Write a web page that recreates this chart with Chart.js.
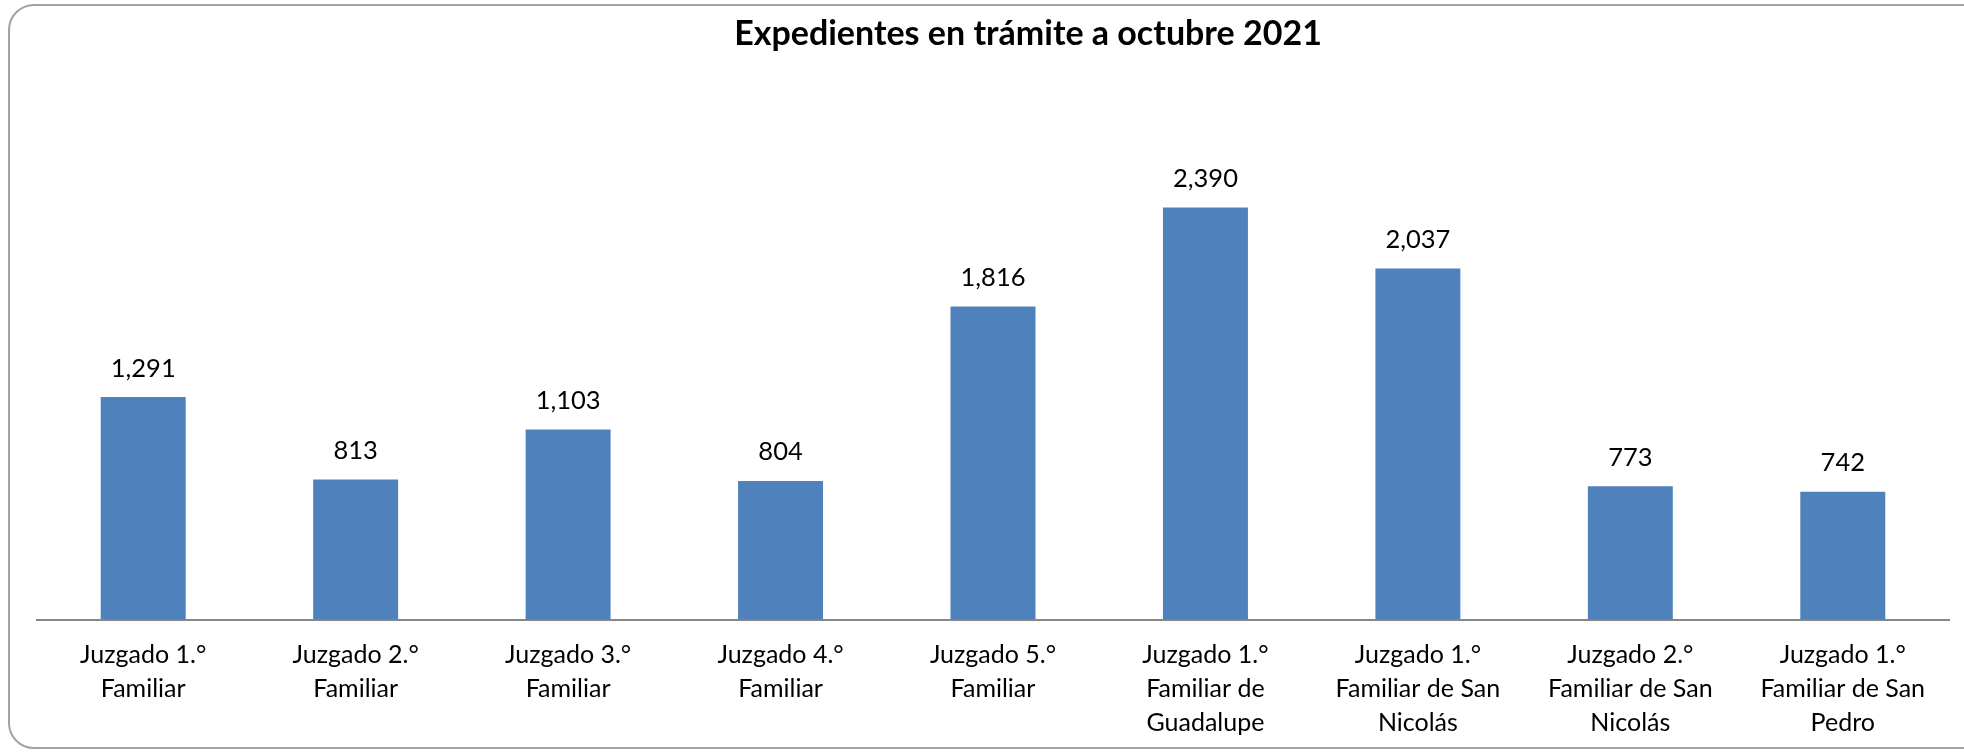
<!DOCTYPE html>
<html>
<head>
<meta charset="utf-8">
<script src="https://cdn.jsdelivr.net/npm/chart.js@4.4.1/dist/chart.umd.min.js"></script>
<style>
  html, body { margin: 0; padding: 0; background: #ffffff; }
  body { width: 1964px; height: 752px; position: relative; overflow: hidden; }
  #frame { position: absolute; left: 8px; top: 4px; width: 2000px; height: 741px;
           border: 2px solid #a3a3a3; border-radius: 26px; box-sizing: content-box; }
  #wrap { position: absolute; left: 0; top: 0; width: 1964px; height: 752px; }
</style>
</head>
<body>
<div id="frame"></div>
<div id="wrap"><canvas id="c" width="1964" height="752"></canvas></div>
<script>
const titleText = "Expedientes en trámite a octubre 2021";
const categories = [
  ["Juzgado 1.°", "Familiar"],
  ["Juzgado 2.°", "Familiar"],
  ["Juzgado 3.°", "Familiar"],
  ["Juzgado 4.°", "Familiar"],
  ["Juzgado 5.°", "Familiar"],
  ["Juzgado 1.°", "Familiar de", "Guadalupe"],
  ["Juzgado 1.°", "Familiar de San", "Nicolás"],
  ["Juzgado 2.°", "Familiar de San", "Nicolás"],
  ["Juzgado 1.°", "Familiar de San", "Pedro"]
];
const expedientes = [1291, 813, 1103, 804, 1816, 2390, 2037, 773, 742];
const yMin = 0;
const yMax = 3000;

const FONT = "Lato, 'Open Sans', sans-serif";

const titlePlugin = {
  id: 'customTitle',
  afterDraw(chart) {
    const ctx = chart.ctx;
    ctx.save();
    ctx.font = "bold 34px " + FONT;
    ctx.fillStyle = "#000000";
    ctx.textAlign = "center";
    ctx.textBaseline = "alphabetic";
    ctx.fillText(titleText, 1028, 45);
    ctx.restore();
  }
};

const valueLabels = {
  id: 'valueLabels',
  afterDatasetsDraw(chart) {
    const ctx = chart.ctx;
    const meta = chart.getDatasetMeta(0);
    ctx.save();
    ctx.font = "25.5px " + FONT;
    ctx.fillStyle = "#000000";
    ctx.textAlign = "center";
    ctx.textBaseline = "alphabetic";
    meta.data.forEach((bar, i) => {
      const v = chart.data.datasets[0].data[i];
      ctx.fillText(v.toLocaleString('en-US'), bar.x, bar.y - 20.5);
    });
    ctx.restore();
  }
};

new Chart(document.getElementById('c'), {
  type: 'bar',
  data: {
    labels: categories,
    datasets: [{
      data: expedientes,
      backgroundColor: '#4F81BD',
      borderWidth: 0,
      categoryPercentage: 1.0,
      barPercentage: 0.4
    }]
  },
  options: {
    responsive: false,
    animation: false,
    devicePixelRatio: 1,
    layout: { padding: { left: 37, right: 15, top: 102.5, bottom: -5.5 } },
    plugins: {
      legend: { display: false },
      title: { display: false },
      tooltip: { enabled: false }
    },
    scales: {
      x: {
        grid: { display: false, drawTicks: false },
        border: { display: true, color: '#878787', width: 2 },
        ticks: {
          color: '#000000',
          font: { family: FONT, size: 25, lineHeight: 1.36 },
          padding: 18,
          maxRotation: 0,
          autoSkip: false
        }
      },
      y: {
        display: false,
        min: yMin,
        max: yMax
      }
    }
  },
  plugins: [titlePlugin, valueLabels]
});
</script>
</body>
</html>
